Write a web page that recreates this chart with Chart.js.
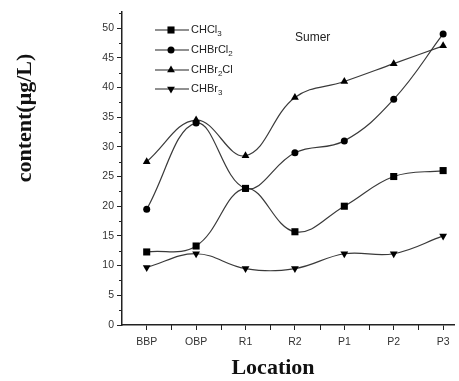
<!DOCTYPE html>
<html>
<head>
<meta charset="utf-8">
<script src="https://cdn.jsdelivr.net/npm/chart.js@4"></script>
<style>
  html, body { margin: 0; padding: 0; background: #fff; }
  #wrap { width: 459px; height: 381px; }
</style>
</head>
<body>
<div id="wrap"><canvas id="chart"></canvas></div>
<script>
const locations = ["BBP", "OBP", "R1", "R2", "P1", "P2", "P3"];
const chcl3 = [12.3, 13.3, 23, 15.7, 20, 25, 26];
const chbrcl2 = [19.5, 34, 23, 29, 31, 38, 49];
const chbr2cl = [27.5, 34.5, 28.5, 38.3, 41, 44, 47];
const chbr3 = [9.7, 12, 9.5, 9.5, 12, 12, 15];
const yTicks = [0, 5, 10, 15, 20, 25, 30, 35, 40, 45, 50];

const seriesNames = [
  [["CHCl", 0], ["3", 1]],
  [["CHBrCl", 0], ["2", 1]],
  [["CHBr", 0], ["2", 1], ["Cl", 0]],
  [["CHBr", 0], ["3", 1]]
];
const markers = [
  { style: "rect", radius: 5, rotation: 0 },
  { style: "circle", radius: 3.5, rotation: 0 },
  { style: "triangle", radius: 4.5, rotation: 0 },
  { style: "triangle", radius: 4.5, rotation: 180 }
];

const toPoints = (arr) => arr.map((v, i) => ({ x: i, y: v }));
const allSeries = [chcl3, chbrcl2, chbr2cl, chbr3];

const datasets = allSeries.map((arr, i) => ({
  label: seriesNames[i].map((p) => p[0]).join(""),
  data: toPoints(arr),
  borderColor: "#3a3a3a",
  borderWidth: 1.2,
  backgroundColor: "#000",
  pointBackgroundColor: "#000",
  pointBorderColor: "#000",
  pointBorderWidth: 0,
  pointStyle: markers[i].style,
  pointRadius: markers[i].radius,
  pointRotation: markers[i].rotation,
  tension: 0.4,
  fill: false
}));

const font = "Arial, 'Liberation Sans', sans-serif";
const serif = "'Liberation Serif', 'Times New Roman', serif";

const extras = {
  id: "extras",
  afterDraw(chart) {
    const ctx = chart.ctx;
    const xs = chart.scales.x, ys = chart.scales.y;
    ctx.save();
    ctx.strokeStyle = "#222";
    ctx.lineWidth = 1;
    // minor ticks
    for (let v = 2.5; v < ys.max; v += 5) {
      const py = Math.round(ys.getPixelForValue(v)) + 0.5;
      ctx.beginPath();
      ctx.moveTo(xs.left - 3, py);
      ctx.lineTo(xs.left, py);
      ctx.stroke();
    }
    for (let v = 0.5; v < xs.max; v += 1) {
      const px = Math.round(xs.getPixelForValue(v)) + 0.5;
      ctx.beginPath();
      ctx.moveTo(px, ys.bottom);
      ctx.lineTo(px, ys.bottom + 5);
      ctx.stroke();
    }
    // legend
    ctx.textBaseline = "middle";
    const rowY = [30, 50, 70, 89];
    seriesNames.forEach((parts, i) => {
      const y = rowY[i];
      ctx.strokeStyle = "#222";
      ctx.lineWidth = 1.2;
      ctx.beginPath();
      ctx.moveTo(155, y);
      ctx.lineTo(189, y);
      ctx.stroke();
      ctx.fillStyle = "#000";
      Chart.helpers.drawPoint(ctx, {
        pointStyle: markers[i].style,
        radius: markers[i].radius,
        rotation: markers[i].rotation,
        borderWidth: 0
      }, 171, y);
      let x = 191;
      ctx.fillStyle = "#222";
      parts.forEach(([txt, sub]) => {
        ctx.font = (sub ? "8px " : "11px ") + font;
        ctx.fillText(txt, x, y + (sub ? 4 : 0));
        x += ctx.measureText(txt).width;
      });
    });
    ctx.font = "12px " + font;
    ctx.fillStyle = "#222";
    ctx.fillText("Sumer", 295, 38);
    // axis titles
    ctx.fillStyle = "#111";
    ctx.font = "bold 22px " + serif;
    ctx.textAlign = "center";
    ctx.fillText("Location", 273, 368);
    ctx.translate(25, 118);
    ctx.rotate(-Math.PI / 2);
    ctx.fillText("content(μg/L)", 0, 0);
    ctx.restore();
  }
};

new Chart(document.getElementById("chart"), {
  type: "line",
  data: { datasets },
  plugins: [extras],
  options: {
    responsive: true,
    maintainAspectRatio: false,
    animation: false,
    layout: { padding: { top: 12, right: 0, left: 0, bottom: 0 } },
    plugins: { legend: { display: false }, tooltip: { enabled: false } },
    scales: {
      x: {
        type: "linear",
        min: -0.5,
        max: 6.22,
        afterBuildTicks: (s) => { s.ticks = locations.map((_, i) => ({ value: i })); },
        afterFit: (s) => { s.height = 56; },
        ticks: {
          callback: (v) => locations[v] || "",
          color: "#333",
          font: { family: font, size: 10.5 },
          padding: 6,
          maxRotation: 0,
          autoSkip: false
        },
        grid: { drawOnChartArea: false, tickLength: 5, color: "#222", tickWidth: 1 },
        border: { display: true, color: "#222", width: 1.5 }
      },
      y: {
        type: "linear",
        min: 0,
        max: 52.7,
        afterBuildTicks: (s) => { s.ticks = yTicks.map((v) => ({ value: v })); },
        afterFit: (s) => { s.width = 122; },
        ticks: {
          color: "#333",
          font: { family: font, size: 10.5 },
          padding: 3
        },
        grid: { drawOnChartArea: false, tickLength: 5, color: "#222", tickWidth: 1 },
        border: { display: true, color: "#222", width: 1.5 }
      }
    }
  }
});
</script>
</body>
</html>
